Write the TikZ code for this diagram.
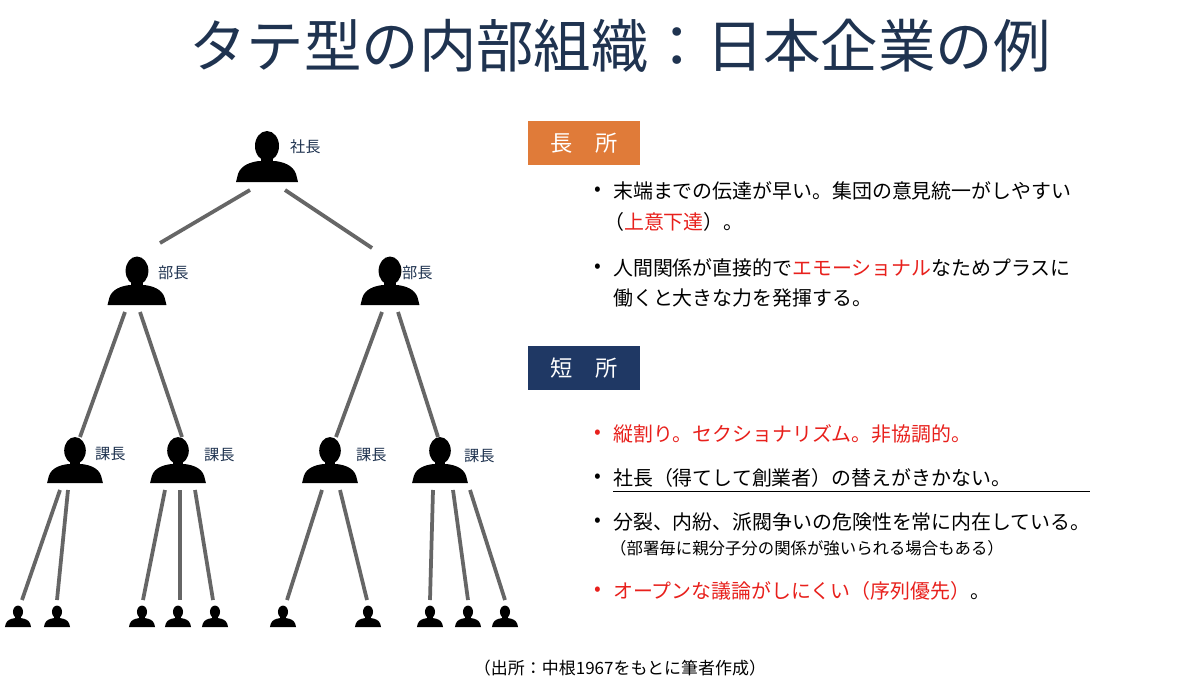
\documentclass[tikz,border=0pt]{standalone}
\usepackage{fontspec}
\setmainfont{Noto Sans CJK JP}
\begin{document}
\begin{tikzpicture}[x=0.03cm,y=-0.03cm,
  pics/person/.style={code={
    \fill[black] (0,-36) ellipse (12 and 15);
    \fill[black] (-6,-26) rectangle (6,-16);
    \fill[black] (-31,0) -- (-29,-8) .. controls (-26,-17) and (-16,-20) .. (-8,-21) -- (8,-21) .. controls (16,-20) and (26,-17) .. (29,-8) -- (31,0) -- cycle;
  }},
  link/.style={draw=gray!80!black,line width=3.2pt},
  lab/.style={font=\fontsize{13}{13}\selectfont,text=navy,anchor=west,inner sep=0},
  txt/.style={font=\fontsize{17}{20}\selectfont,anchor=west,inner sep=0},
  bul/.style={font=\fontsize{17}{20}\selectfont,inner sep=0},
  hdr/.style={minimum width=112*0.03cm,minimum height=44*0.03cm,text=white,font=\fontsize{19}{19}\selectfont,inner sep=0}]
\definecolor{navy}{HTML}{1F3350}
\definecolor{org}{HTML}{E07B39}
\definecolor{hdrnavy}{HTML}{1F3864}
\definecolor{myred}{HTML}{E8201C}
\useasboundingbox[fill=white] (0,0) rectangle (1200,696);
\node[font=\fontsize{49}{49}\selectfont,text=navy,inner sep=0] (title) at (620,46) {タテ型の内部組織：日本企業の例};
% people
\pic at (267,182) {person};
\node[lab] (l0) at (290,147) {社長};
\pic[scale=0.95] at (137,305) {person};
\node[lab] (l1) at (158,273) {部長};
\pic[scale=0.95] at (390,305) {person};
\node[lab] (l2) at (402,273) {部長};
\pic[scale=0.9] at (75,483) {person};
\node[lab] (l3) at (95,454) {課長};
\pic[scale=0.9] at (178,483) {person};
\node[lab] (l4) at (204,455) {課長};
\pic[scale=0.9] at (330,483) {person};
\node[lab] (l5) at (356,455) {課長};
\pic[scale=0.9] at (440,483) {person};
\node[lab] (l6) at (464,456) {課長};
\foreach \x in {18,57,142,178,215,283,368,430,468,505} \pic[scale=0.42] at (\x,627) {person};
% links
\coordinate (a1) at (250,190); \coordinate (a2) at (160,243);
\coordinate (b1) at (285,190); \coordinate (b2) at (372,248);
\draw[link] (a1)--(a2); \draw[link] (b1)--(b2);
\foreach \a/\b/\c/\d in {125/312/80/437, 140/312/182/437, 382/312/336/437, 398/312/438/437,
  60/490/22/600, 68/490/57/600, 165/490/143/600, 180/490/180/600, 195/490/213/600,
  322/490/287/600, 340/490/367/600, 433/490/430/600, 453/490/468/600, 470/490/505/600}{
  \coordinate (p) at (\a,\b); \coordinate (q) at (\c,\d); \draw[link] (p)--(q);}
% headers
\node[hdr,fill=org] (h1) at (584,143) {長\quad 所};
\node[hdr,fill=hdrnavy] (h2) at (584,368) {短\quad 所};
% texts
\node[bul] (b1) at (598,191) {•};
\node[txt] (t1) at (613,191) {末端までの伝達が早い。集団の意見統一がしやすい};
\node[txt] (t1b) at (604,222) {（\textcolor{myred}{上意下達}）。};
\node[bul] (b2) at (598,268) {•};
\node[txt] (t2) at (613,268) {人間関係が直接的で\textcolor{myred}{エモーショナル}なためプラスに};
\node[txt] (t2b) at (613,298) {働くと大きな力を発揮する。};
\node[bul,text=myred] (b3) at (598,434) {•};
\node[txt,text=myred] (t3) at (613,434) {縦割り。セクショナリズム。非協調的。};
\node[bul] (b4) at (598,478) {•};
\node[txt] (t4) at (613,478) {社長（得てして創業者）の替えがきかない。};
\coordinate (u1) at (613,491); \coordinate (u2) at (1090,491);
\draw[line width=0.8pt] (u1)--(u2);
\node[bul] (b5) at (598,522) {•};
\node[txt] (t5) at (613,522) {分裂、内紛、派閥争いの危険性を常に内在している。};
\node[txt,font=\fontsize{14}{14}\selectfont] (t5b) at (610,548) {（部署毎に親分子分の関係が強いられる場合もある）};
\node[bul,text=myred] (b6) at (598,591) {•};
\node[txt] (t6) at (613,591) {\textcolor{myred}{オープンな議論がしにくい（序列優先）}。};
\node[font=\fontsize{14.5}{14.5}\selectfont,inner sep=0] (src) at (620,668) {（出所：中根1967をもとに筆者作成）};
\end{tikzpicture}
\end{document}
